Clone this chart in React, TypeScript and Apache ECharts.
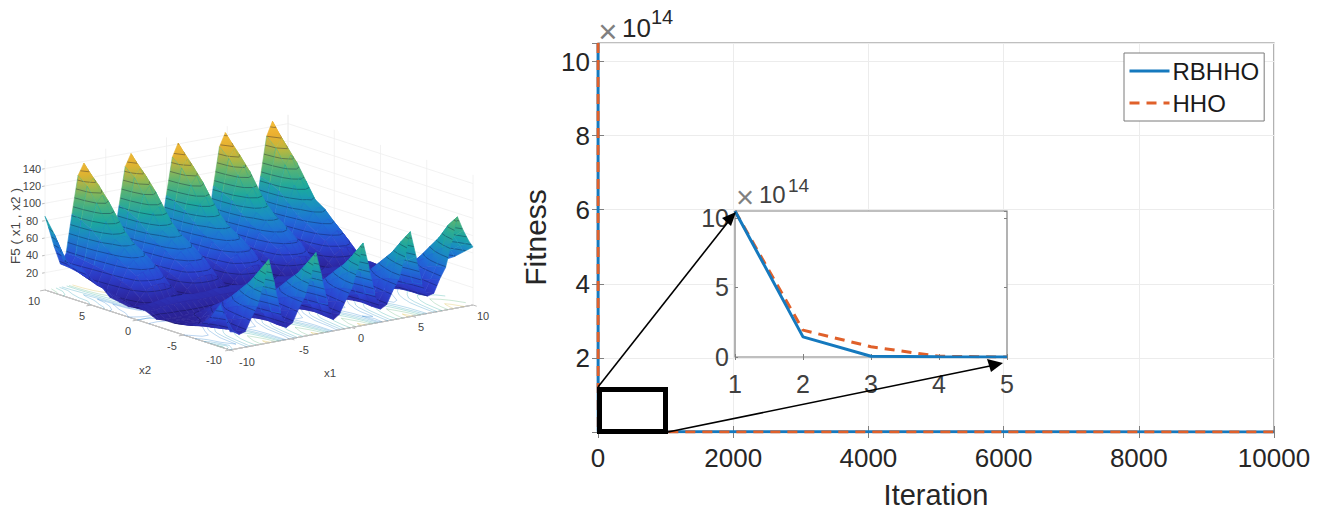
import React, { useEffect, useRef } from "react";
import * as echarts from "echarts";

// ---------- right-hand chart ----------
const iterations = [1, 2, 3, 4, 5, 10000];
const rbhho = [10.5, 1.45, 0.05, 0.01, 0, 0];
const hho = [10.5, 1.93, 0.74, 0.05, 0, 0];
const mainYMax = 10.5;

// ---------- left-hand surface: heights ----------
// Position of each column along x1 and each row along x2, as fractions of the axis
const surfaceU = [
  0, 0.014, 0.038, 0.063, 0.087, 0.111, 0.136,
  0.16, 0.184, 0.208, 0.232, 0.257, 0.281, 0.305, 0.33,
  0.354, 0.378, 0.402, 0.426, 0.451, 0.475, 0.499, 0.524,
  0.548, 0.572, 0.596, 0.62, 0.645, 0.669, 0.693, 0.718,
  0.742, 0.766, 0.79, 0.814, 0.839, 0.863, 0.887, 0.912,
  0.936, 0.96, 0.984, 1,
];
const surfaceV = [
  0, 0.05, 0.1, 0.15, 0.2, 0.25, 0.3, 0.35, 0.4, 0.45, 0.5, 0.55, 0.6, 0.65, 0.7, 0.75, 0.8, 0.85, 0.9, 0.95, 1,
];
const surfaceZ = [
  [85,72,48,27,38,82,125, 138,126,100,68,27,38,82,125, 139,127,101,69,27,39,83,126, 141,129,102,70,27,39,84,128, 143,131,104,71,28,40,85,130, 146,132,96,46],
  [68,58,40,26,38,78,116, 124,114,92,62,26,38,78,116, 125,115,93,63,26,39,79,117, 126,116,94,64,26,39,80,118, 128,118,95,65,27,40,81,120, 130,118,84,42],
  [41,38,30,24,36,72,100, 108,100,82,56,24,36,72,100, 109,101,83,57,24,37,73,101, 110,102,84,57,25,37,74,102, 112,104,85,58,25,38,75,104, 114,104,76,36],
  [39,34,26,20,34,62,82, 88,84,70,48,20,34,62,82, 88,84,70,48,20,34,63,82, 89,85,71,49,20,35,63,83, 90,86,72,49,21,35,64,84, 92,86,64,30],
  [39,33,25,16,32,52,65, 68,66,58,42,16,32,52,65, 68,66,58,42,16,32,52,65, 69,67,59,43,16,33,53,66, 70,68,60,43,17,33,54,67, 72,68,54,27],
  [29,25,20,14,30,47,58, 60,59,52,36,14,30,47,58, 60,59,52,36,14,30,47,58, 61,60,52,36,14,31,48,59, 62,61,53,37,15,31,48,60, 64,61,48,26],
  [26,22,16,11,26,40,48, 50,49,44,30,11,26,40,48, 50,49,44,30,11,26,40,48, 51,50,45,31,11,27,41,49, 52,50,45,31,12,27,41,50, 54,50,40,18],
  [16,15,12,9,22,34,38, 40,40,35,24,9,22,34,38, 40,40,35,24,9,22,34,38, 41,41,36,25,9,23,35,39, 42,42,36,25,10,23,35,40, 44,40,30,14],
  [14,13,11,5,14,21,25, 26,26,22,15,5,14,21,25, 26,26,22,15,5,14,21,25, 27,27,23,15,5,14,22,26, 28,27,23,16,6,15,22,27, 29,26,19,12],
  [12,11,8,5,5,6,6, 6,6,6,5,5,5,6,6, 6,6,6,5,5,5,6,6, 7,6,6,5,5,5,6,7, 7,7,6,6,5,6,6,7, 8,8,8,8],
  [16,16,16,17,18,19,20, 20,20,19,18,18,18,19,20, 20,20,19,18,18,18,19,20, 21,20,19,18,18,19,19,20, 21,20,19,19,18,19,20,21, 20,17,13,10],
  [13,13,13,15,16,16,17, 17,17,16,16,16,16,17,17, 17,17,16,16,16,16,17,17, 18,17,17,16,16,17,17,18, 18,18,17,17,16,17,18,18, 18,16,15,13],
  [8,7,6,6,6,6,7, 7,7,7,6,6,6,7,7, 7,7,7,6,6,6,7,7, 8,7,7,6,6,7,7,8, 8,8,8,8,8,9,10,11, 13,14,15,16],
  [10,9,7,7,7,9,12, 14,12,10,8,7,7,9,12, 14,12,10,8,7,7,9,12, 15,13,10,8,8,8,10,13, 16,13,11,9,9,10,13,16, 18,19,20,20],
  [10,9,7,8,8,11,17, 22,18,13,9,8,8,11,17, 22,18,13,9,8,8,11,17, 23,19,14,10,9,9,12,18, 24,20,15,11,10,12,16,21, 25,25,25,24],
  [12,11,9,10,12,18,24, 30,24,15,10,10,12,18,24, 30,24,15,10,10,12,18,24, 31,25,16,11,11,13,19,25, 32,26,18,13,13,16,22,28, 34,32,30,28],
  [15,14,12,12,16,26,33, 40,30,18,12,12,16,26,33, 40,30,18,12,12,16,26,33, 41,31,19,13,13,17,27,34, 43,33,21,15,16,20,30,38, 46,42,38,34],
  [20,18,14,13,20,33,42, 52,38,22,14,13,20,33,42, 52,38,22,14,13,20,33,42, 53,39,23,15,14,21,34,43, 55,41,25,18,17,25,37,48, 60,54,48,42],
  [32,26,16,14,24,38,50, 64,48,26,15,14,24,38,50, 63,47,26,15,14,24,38,50, 64,48,27,16,15,25,39,51, 67,50,29,19,18,29,43,57, 74,66,57,49],
  [50,38,20,16,28,42,60, 80,58,30,14,16,28,42,59, 78,57,30,14,16,28,42,59, 79,58,31,15,17,29,43,60, 83,60,33,19,20,33,47,67, 92,78,66,58],
  [21,20,16,18,32,44,66, 96,66,32,14,18,32,44,65, 94,65,32,13,18,32,44,65, 95,66,33,15,19,33,45,67, 98,68,35,20,22,37,49,76, 105,88,74,67],
];
const zTickValues = [20, 40, 60, 80, 100, 120, 140];
const horizontalTicks = [-10, -5, 0, 5, 10];
const contourLevels = [10, 20, 30, 40, 50, 60, 70, 80, 90, 100, 110, 120, 130, 140];
const floorLevels = [12, 16, 22, 30, 42, 60, 85];
const colourStops: [number, string][] = [
  [0, "#281c84"],
  [14, "#2c28a4"],
  [30, "#2c42d2"],
  [48, "#1f6cd8"],
  [65, "#1a90c0"],
  [80, "#1aa8a0"],
  [96, "#45b080"],
  [110, "#82b85a"],
  [122, "#d0b632"],
  [135, "#f0ae30"],
  [150, "#f8c63a"],
];

// Projection of the 3-D box onto the picture
const LEFT = [45, 290];
const ALONG_X1 = [243, -45];
const ALONG_X2 = [185, 60];
const Z_SCALE = 0.867;
const Z_TOP = 150;
const project = (u: number, v: number, z: number): [number, number] => [
  LEFT[0] + ALONG_X1[0] * u + ALONG_X2[0] * v,
  LEFT[1] + ALONG_X1[1] * u + ALONG_X2[1] * v - Z_SCALE * z,
];

const mix = (a: string, b: string, t: number) => {
  const pa = [1, 3, 5].map((k) => parseInt(a.slice(k, k + 2), 16));
  const pb = [1, 3, 5].map((k) => parseInt(b.slice(k, k + 2), 16));
  return "rgb(" + pa.map((c, i) => Math.round(c + (pb[i] - c) * t)).join(",") + ")";
};
const colourAt = (z: number) => {
  for (let i = 1; i < colourStops.length; i++) {
    if (z <= colourStops[i][0]) {
      const [z0, c0] = colourStops[i - 1];
      const [z1, c1] = colourStops[i];
      return mix(c0, c1, Math.max(0, (z - z0) / (z1 - z0)));
    }
  }
  return colourStops[colourStops.length - 1][1];
};

// Segments where a height level crosses one cell; each end is [u, v]
const levelSegments = (row: number, col: number, level: number) => {
  const u0 = surfaceU[col], u1 = surfaceU[col + 1], v0 = surfaceV[row], v1 = surfaceV[row + 1];
  const a = surfaceZ[row][col], b = surfaceZ[row][col + 1], c = surfaceZ[row + 1][col + 1], d = surfaceZ[row + 1][col];
  const corners: [number, number, number][] = [[u0, v0, a], [u1, v0, b], [u1, v1, c], [u0, v1, d]];
  const hits: [number, number][] = [];
  for (let k = 0; k < 4; k++) {
    const p = corners[k], q = corners[(k + 1) % 4];
    if ((p[2] < level) !== (q[2] < level)) {
      const t = (level - p[2]) / (q[2] - p[2]);
      hits.push([p[0] + (q[0] - p[0]) * t, p[1] + (q[1] - p[1]) * t]);
    }
  }
  const out: [[number, number], [number, number]][] = [];
  for (let k = 0; k + 1 < hits.length; k += 2) out.push([hits[k], hits[k + 1]]);
  return out;
};

const SANS = "Liberation Sans, Arial, sans-serif";
const TICK = "#262626";
const BOX = "#808080";
const BLUE = "#1579be";
const ORANGE = "#e0602a";

const hiddenAxis = (extra: object) => ({ show: false, type: "value", gridIndex: 2, ...extra });

const sideAxis = (grid: number, position: string, min: number, max: number, interval: number, len: number) => ({
  type: "value",
  gridIndex: grid,
  position,
  min,
  max,
  interval,
  z: grid === 1 ? 2 : 0,
  axisLine: { show: false },
  axisLabel: { show: false },
  splitLine: { show: false },
  axisTick: { show: true, inside: true, length: len, lineStyle: { color: BOX, width: 1 } },
});

const label3d = (text: string, x: number, y: number, size = 11, extra: object = {}) => ({
  type: "text",
  x,
  y,
  z: 50,
  ...extra,
  style: { text, fill: "#444", font: size + "px " + SANS, textAlign: "center", textVerticalAlign: "middle" },
});

const power = (x: number, y: number, base: number, exp: number, colour: string, gap: number, rise: number) => [
  {
    type: "text", x, y, z: 60,
    style: { text: "×", fill: "#808080", font: `${base + 7}px ${SANS}`, textAlign: "center", textVerticalAlign: "middle" },
  },
  {
    type: "text", x: x + 14, y: y - 3, z: 60,
    style: { text: "10", fill: colour, font: `${base}px ${SANS}`, textAlign: "left", textVerticalAlign: "middle" },
  },
  {
    type: "text", x: x + gap, y: y - rise, z: 60,
    style: { text: "14", fill: colour, font: `${exp}px ${SANS}`, textAlign: "left", textVerticalAlign: "middle" },
  },
];

export default function App() {
  const ref = useRef<HTMLDivElement>(null);
  useEffect(() => {
    const chart = echarts.init(ref.current!, undefined, { renderer: "svg" });

    const cells: number[][] = [];
    for (let r = 0; r < surfaceV.length - 1; r++) {
      for (let c = surfaceU.length - 2; c >= 0; c--) cells.push([r, c]);
    }
    const wallLines: number[][] = zTickValues.map((z, i) => [0, i]);
    const tickRows = horizontalTicks.map((t, i) => [1, i]);

    const renderCell = (_: any, api: any) => {
      const r = api.value(0), c = api.value(1);
      const pt = (u: number, v: number, z: number) => api.coord(project(u, v, z));
      const u0 = surfaceU[c], u1 = surfaceU[c + 1], v0 = surfaceV[r], v1 = surfaceV[r + 1];
      const corners: [number, number, number][] = [
        [u0, v0, surfaceZ[r][c]],
        [u1, v0, surfaceZ[r][c + 1]],
        [u1, v1, surfaceZ[r + 1][c + 1]],
        [u0, v1, surfaceZ[r + 1][c]],
      ];
      const points = corners.map((k) => pt(k[0], k[1], k[2]));
      let lo = 0, hi = 0;
      corners.forEach((k, i) => {
        if (k[2] < corners[lo][2]) lo = i;
        if (k[2] > corners[hi][2]) hi = i;
      });
      const zLo = corners[lo][2], zHi = corners[hi][2];
      const fill: any =
        zHi - zLo < 1
          ? colourAt(zLo)
          : {
              type: "linear",
              global: true,
              x: points[lo][0], y: points[lo][1], x2: points[hi][0], y2: points[hi][1],
              colorStops: [0, 0.5, 1].map((o) => ({ offset: o, color: colourAt(zLo + (zHi - zLo) * o) })),
            };
      const children: any[] = [
        {
          type: "polygon",
          shape: { points },
          style: { fill, stroke: colourAt((zLo + zHi) / 2), lineWidth: 0.6 },
        },
      ];
      contourLevels.forEach((level) => {
        levelSegments(r, c, level).forEach(([a, b]) => {
          const p = pt(a[0], a[1], level), q = pt(b[0], b[1], level);
          children.push({
            type: "line",
            shape: { x1: p[0], y1: p[1], x2: q[0], y2: q[1] },
            style: { stroke: "rgba(12,12,50,0.5)", lineWidth: 0.7 },
          });
        });
      });
      return { type: "group", children };
    };

    const renderFloorContour = (_: any, api: any) => {
      const r = api.value(0), c = api.value(1);
      const children: any[] = [];
      floorLevels.forEach((level) => {
        levelSegments(r, c, level).forEach(([a, b]) => {
          const p = api.coord(project(a[0], a[1], 0)), q = api.coord(project(b[0], b[1], 0));
          children.push({
            type: "line",
            shape: { x1: p[0], y1: p[1], x2: q[0], y2: q[1] },
            style: { stroke: colourAt(level + 40), lineWidth: 0.6, opacity: 0.5 },
          });
        });
      });
      return { type: "group", children };
    };

    const renderBox = (_: any, api: any) => {
      const kind = api.value(0), i = api.value(1);
      const seg = (a: number[], b: number[], colour: string) => {
        const p = api.coord(project(a[0], a[1], a[2])), q = api.coord(project(b[0], b[1], b[2]));
        return { type: "line", shape: { x1: p[0], y1: p[1], x2: q[0], y2: q[1] }, style: { stroke: colour, lineWidth: 0.8 } };
      };
      const faint = "#efefef";
      if (kind === 0) {
        const z = zTickValues[i];
        return {
          type: "group",
          children: [
            seg([0, 0, z], [1, 0, z], faint),
            seg([1, 0, z], [1, 1, z], faint),
            seg([0, 0, z], [-0.012, 0, z], "#aaa"),
          ],
        };
      }
      const f = (horizontalTicks[i] + 10) / 20;
      return {
        type: "group",
        children: [
          seg([f, 0, 0], [f, 0, Z_TOP], faint),
          seg([1, f, 0], [1, f, Z_TOP], faint),
          seg([f, 1, 0], [f, 1.02, 0], "#aaa"),
          seg([0, f, 0], [-0.02, f, 0], "#aaa"),
          seg([0, 1, 0], [1, 1, 0], "#c4c4c4"),
          seg([0, 0, 0], [0, 1, 0], "#c4c4c4"),
        ],
      };
    };

    const annotation: any[] = [
      {
        type: "rect",
        z: 40,
        shape: { x: 599.5, y: 389.5, width: 66, height: 42 },
        style: { fill: "none", stroke: "#000", lineWidth: 5 },
      },
      { type: "line", z: 40, shape: { x1: 598, y1: 387, x2: 728, y2: 222 }, style: { stroke: "#000", lineWidth: 1.6 } },
      { type: "polygon", z: 41, shape: { points: [[736, 212], [722, 218], [731, 226]] }, style: { fill: "#000" } },
      { type: "line", z: 40, shape: { x1: 668, y1: 432, x2: 990, y2: 366 }, style: { stroke: "#000", lineWidth: 1.6 } },
      { type: "polygon", z: 41, shape: { points: [[1003, 363], [987, 359], [991, 372]] }, style: { fill: "#000" } },
      ...power(608, 31, 26, 20, "#262626", 43, 14),
      ...power(745, 197, 24, 19, "#404040", 43, 12),
      label3d("F5 ( x1 , x2 )", 15, 226, 13.5, { rotation: Math.PI / 2 }),
      ...zTickValues.map((z) => label3d(String(z), 32, project(0, 0, z)[1])),
      ...horizontalTicks.map((t, i) => label3d(String(t), [214, 172, 128, 82, 34][i], [360, 346, 331, 316, 301][i])),
      ...horizontalTicks.map((t, i) => label3d(String(t), [247, 304, 361, 421, 483][i], [362, 350, 338, 327, 316][i])),
      label3d("x2", 145, 370, 11.5),
      label3d("x1", 330, 373, 11.5),
    ];

    chart.setOption({
      animation: false,
      backgroundColor: "#fff",
      textStyle: { fontFamily: SANS },
      legend: {
        left: 1124,
        top: 53,
        orient: "vertical",
        data: ["RBHHO", "HHO"],
        itemWidth: 40,
        itemHeight: 14,
        itemGap: 8,
        padding: [6, 5, 6, 4],
        backgroundColor: "#fff",
        borderColor: "#7a7a7a",
        borderWidth: 1,
        selectedMode: false,
        z: 30,
        itemStyle: { opacity: 0 },
        lineStyle: { width: 3 },
        textStyle: { fontSize: 24, color: "#1a1a1a", fontFamily: SANS, padding: [0, 0, 0, -2] },
      },
      grid: [
        { left: 598, top: 43, width: 676, height: 389, show: true, borderColor: BOX, borderWidth: 1.2, backgroundColor: "#fff", z: 0, outerBoundsMode: "none" },
        { left: 735, top: 211, width: 272, height: 146, show: true, borderColor: BOX, borderWidth: 1.2, backgroundColor: "#fff", z: 1, outerBoundsMode: "none" },
        { left: 0, top: 0, width: 500, height: 509, show: false, outerBoundsMode: "none" },
      ],
      xAxis: [
        {
          type: "value",
          gridIndex: 0,
          min: 0,
          max: 10000,
          interval: 2000,
          z: 0,
          name: "Iteration",
          nameLocation: "middle",
          nameGap: 48,
          nameTextStyle: { fontSize: 29, color: TICK, fontFamily: SANS },
          axisLine: { show: false },
          axisTick: { show: true, inside: true, length: 6, lineStyle: { color: BOX, width: 1 } },
          axisLabel: { fontSize: 26, color: TICK, margin: 13, fontFamily: SANS, formatter: (v: number) => String(v) },
          splitLine: { show: true, lineStyle: { color: "#ececec", width: 1 } },
        },
        sideAxis(0, "top", 0, 10000, 2000, 6),
        {
          type: "value",
          gridIndex: 1,
          min: 1,
          max: 5,
          interval: 1,
          z: 2,
          axisLine: { show: false },
          axisTick: { show: true, inside: true, length: 3, lineStyle: { color: BOX, width: 1 } },
          axisLabel: { fontSize: 25, color: "#404040", margin: 14, fontFamily: SANS },
          splitLine: { show: false },
        },
        sideAxis(1, "top", 1, 5, 1, 3),
        hiddenAxis({ min: 0, max: 500 }),
      ],
      yAxis: [
        {
          type: "value",
          gridIndex: 0,
          min: 0,
          max: mainYMax,
          interval: 2,
          z: 0,
          name: "Fitness",
          nameLocation: "middle",
          nameGap: 43,
          nameTextStyle: { fontSize: 30, color: TICK, fontFamily: SANS },
          axisLine: { show: false },
          axisTick: { show: true, inside: true, length: 6, lineStyle: { color: BOX, width: 1 } },
          axisLabel: {
            fontSize: 26,
            color: TICK,
            margin: 8,
            fontFamily: SANS,
            showMaxLabel: false,
            formatter: (v: number) => (v === 0 ? "" : String(v)),
          },
          splitLine: { show: true, lineStyle: { color: "#ececec", width: 1 } },
        },
        sideAxis(0, "right", 0, mainYMax, 2, 6),
        {
          type: "value",
          gridIndex: 1,
          min: 0,
          max: mainYMax,
          interval: 5,
          z: 2,
          axisLine: { show: false },
          axisTick: { show: true, inside: true, length: 3, lineStyle: { color: BOX, width: 1 } },
          axisLabel: { fontSize: 25, color: "#404040", margin: 6, fontFamily: SANS, showMaxLabel: false, padding: [5, 0, 0, 0] },
          splitLine: { show: false },
        },
        sideAxis(1, "right", 0, mainYMax, 5, 3),
        hiddenAxis({ min: 0, max: 509, inverse: true }),
      ],
      series: [
        { type: "custom", name: "box", xAxisIndex: 4, yAxisIndex: 4, z: 5, silent: true, renderItem: renderBox, data: [...wallLines, ...tickRows] },
        { type: "custom", name: "floor contours", xAxisIndex: 4, yAxisIndex: 4, z: 6, silent: true, renderItem: renderFloorContour, data: cells },
        { type: "custom", name: "surface", xAxisIndex: 4, yAxisIndex: 4, z: 7, silent: true, renderItem: renderCell, data: cells },
        {
          type: "line", name: "RBHHO", xAxisIndex: 0, yAxisIndex: 0, z: 8, symbol: "none",
          lineStyle: { color: BLUE, width: 3 }, itemStyle: { color: BLUE },
          data: iterations.map((x, i) => [x, rbhho[i]]),
        },
        {
          type: "line", name: "HHO", xAxisIndex: 0, yAxisIndex: 0, z: 9, symbol: "none",
          lineStyle: { color: ORANGE, width: 3, type: [10, 7] }, itemStyle: { color: ORANGE },
          data: iterations.map((x, i) => [x, hho[i]]),
        },
        {
          type: "line", name: "HHO", xAxisIndex: 2, yAxisIndex: 2, z: 10, symbol: "none",
          lineStyle: { color: ORANGE, width: 3, type: [10, 7] }, itemStyle: { color: ORANGE },
          data: iterations.slice(0, 5).map((x, i) => [x, hho[i]]),
        },
        {
          type: "line", name: "RBHHO", xAxisIndex: 2, yAxisIndex: 2, z: 11, symbol: "none",
          lineStyle: { color: BLUE, width: 3 }, itemStyle: { color: BLUE },
          data: iterations.slice(0, 5).map((x, i) => [x, rbhho[i]]),
        },
      ],
      graphic: annotation,
    });
    return () => chart.dispose();
  }, []);
  return <div ref={ref} style={{ position: "fixed", left: 0, top: 0, width: 1324, height: 509 }} />;
}
